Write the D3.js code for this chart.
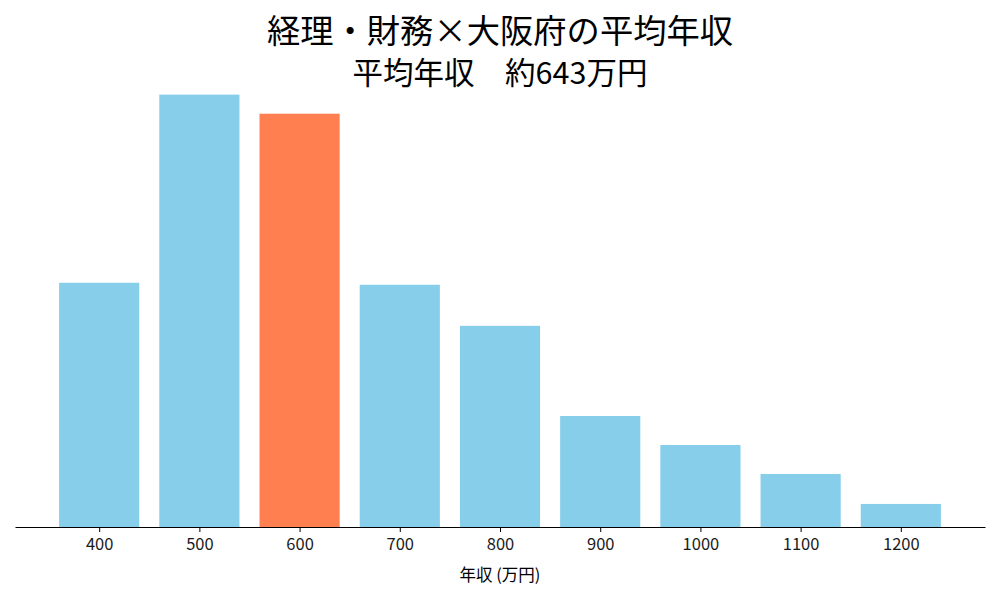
<!DOCTYPE html>
<html>
<head>
<meta charset="utf-8">
<script src="https://cdn.jsdelivr.net/npm/d3@7"></script>
<style>
  body { margin: 0; background: #fff; }
  text { font-family: "Noto Sans CJK JP", "Noto Sans", sans-serif; }
</style>
</head>
<body>
<script>
// Data (share of people per salary band, %)
const bands = [400, 500, 600, 700, 800, 900, 1000, 1100, 1200];
const shares = [13.55, 23.99, 22.93, 13.44, 11.16, 6.16, 4.55, 2.94, 1.28];
const highlightBand = 600;
const titleText = "経理・財務×大阪府の平均年収";
const subtitleText = "平均年収　約643万円";
const xLabel = "年収 (万円)";

const width = 1000, height = 600;
const plot = { left: 15, right: 985, top: 73, bottom: 527 };
const barWidth = 80;

const svg = d3.select("body").append("svg")
    .attr("width", width)
    .attr("height", height);

// x: linear with matplotlib-like 5% margins around the bars
const xMin = d3.min(bands) - barWidth / 2, xMax = d3.max(bands) + barWidth / 2;
const pad = (xMax - xMin) * 0.05;
const x = d3.scaleLinear()
    .domain([xMin - pad, xMax + pad])
    .range([plot.left, plot.right]);

const y = d3.scaleLinear()
    .domain([0, d3.max(shares) * 1.05])
    .range([plot.bottom, plot.top]);

const data = bands.map((b, i) => ({ band: b, value: shares[i] }));

svg.append("g")
    .selectAll("rect")
    .data(data)
    .join("rect")
    .attr("x", d => x(d.band - barWidth / 2))
    .attr("width", d => x(d.band + barWidth / 2) - x(d.band - barWidth / 2))
    .attr("y", d => y(d.value))
    .attr("height", d => y(0) - y(d.value))
    .attr("fill", d => d.band === highlightBand ? "#FF7F50" : "#87CEEB");

// bottom axis
const xAxis = svg.append("g")
    .attr("transform", `translate(0,${plot.bottom})`)
    .call(d3.axisBottom(x)
        .tickValues(bands)
        .tickFormat(d3.format("d"))
        .tickSize(5)
        .tickPadding(6)
        .tickSizeOuter(0))
    .attr("font-size", 16.5)
    .attr("font-family", "'Noto Sans CJK JP', sans-serif");
xAxis.select(".domain").attr("stroke", "#000").attr("stroke-width", 1.2);
xAxis.selectAll(".tick line").attr("stroke", "#000");
xAxis.selectAll(".tick text").attr("fill", "#1a1a1a");

svg.append("text")
    .attr("x", (plot.left + plot.right) / 2)
    .attr("y", 581)
    .attr("text-anchor", "middle")
    .style("font-size", "16.5px")
    .text(xLabel);

svg.append("text")
    .attr("x", 500)
    .attr("y", 43)
    .attr("text-anchor", "middle")
    .style("font-size", "33.3px")
    .text(titleText);

svg.append("text")
    .attr("x", 500)
    .attr("y", 84)
    .attr("text-anchor", "middle")
    .style("font-size", "30.5px")
    .text(subtitleText);
</script>
</body>
</html>
